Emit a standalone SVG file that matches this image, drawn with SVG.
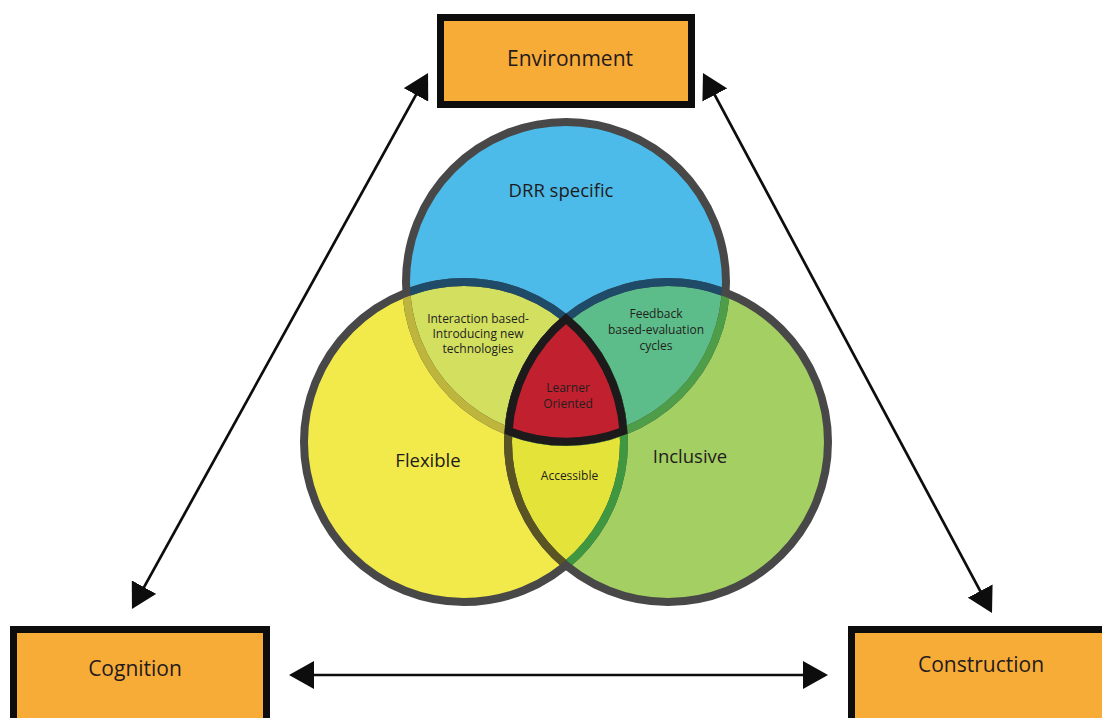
<svg xmlns="http://www.w3.org/2000/svg" width="1102" height="718" viewBox="0 0 1102 718">
  <style>
    .box { fill: #f8ac38; stroke: #0d0d0d; stroke-width: 7; }
    .box-label { font-family: "Open Sans", "Noto Sans", sans-serif; font-size: 21px; fill: #1f1b1c; text-anchor: middle; }
    .set-label { font-family: "Open Sans", "Noto Sans", sans-serif; font-size: 18.5px; fill: #1f1b1c; text-anchor: middle; }
    .zone-label { font-family: "Open Sans", "Noto Sans", sans-serif; font-size: 12px; fill: #231f20; text-anchor: middle; }
    .link { stroke: #0d0d0d; stroke-width: 2.7; fill: none; marker-start: url(#head); marker-end: url(#head); }
    .ring { fill: none; stroke-width: 8; }
    .outer { stroke: #484848; }
    .olive { stroke: #beb53c; }
    .leaf { stroke: #4e9d49; }
    .navy { stroke: #1f4b69; }
    .moss { stroke: #3f973f; }
    .umber { stroke: #5a5424; }
  </style>
  <defs>
    <marker id="head" markerUnits="userSpaceOnUse" viewBox="0 0 25 28" refX="22" refY="14" markerWidth="25" markerHeight="28" orient="auto-start-reverse">
      <path d="M0,0 L25,14 L0,28 Z" fill="#0d0d0d"/>
    </marker>
    <!-- set interiors, used for overlap fills -->
    <clipPath id="inBlue"><circle cx="566" cy="282" r="160"/></clipPath>
    <clipPath id="inYellow"><circle cx="464" cy="442" r="160"/></clipPath>
    <!-- slightly smaller interiors, used to tint ring segments -->
    <clipPath id="ringBlue"><circle cx="566" cy="282" r="156"/></clipPath>
    <clipPath id="ringYellow"><circle cx="464" cy="442" r="156"/></clipPath>
    <clipPath id="ringGreen"><circle cx="668" cy="442" r="156"/></clipPath>
  </defs>

  <!-- connectors -->
  <g id="connectors">
    <line class="link" x1="426.6" y1="75.6" x2="133.4" y2="606.4"/>
    <line class="link" x1="704.4" y1="75.6" x2="990.6" y2="610.4"/>
    <line class="link" x1="292" y1="675" x2="825" y2="675"/>
  </g>

  <!-- venn diagram -->
  <g id="venn">
    <circle cx="566" cy="282" r="160" fill="#4dbbe9"/>
    <circle cx="464" cy="442" r="160" fill="#f2ea4b"/>
    <circle cx="668" cy="442" r="160" fill="#a4cf63"/>

    <circle cx="464" cy="442" r="160" fill="#d3df5f" clip-path="url(#inBlue)"/>
    <circle cx="668" cy="442" r="160" fill="#5dbd8a" clip-path="url(#inBlue)"/>
    <circle cx="668" cy="442" r="160" fill="#e4e33a" clip-path="url(#inYellow)"/>

    <circle class="ring outer" cx="566" cy="282" r="160"/>
    <circle class="ring outer" cx="464" cy="442" r="160"/>
    <circle class="ring outer" cx="668" cy="442" r="160"/>

    <circle class="ring olive" cx="566" cy="282" r="160" clip-path="url(#ringYellow)"/>
    <circle class="ring leaf" cx="566" cy="282" r="160" clip-path="url(#ringGreen)"/>
    <circle class="ring navy" cx="464" cy="442" r="160" clip-path="url(#ringBlue)"/>
    <circle class="ring moss" cx="464" cy="442" r="160" clip-path="url(#ringGreen)"/>
    <circle class="ring navy" cx="668" cy="442" r="160" clip-path="url(#ringBlue)"/>
    <circle class="ring umber" cx="668" cy="442" r="160" clip-path="url(#ringYellow)"/>
  </g>

  <g id="learner-oriented">
    <path d="M566,318.7 A160,160 0 0 0 508.6,431.1 A160,160 0 0 0 623.4,431.1 A160,160 0 0 0 566,318.7 Z" fill="#c1202e" stroke="#1c1a1a" stroke-width="8" stroke-linejoin="miter"/>
    <text class="zone-label" font-size="11.5" x="568" y="392">Learner</text>
    <text class="zone-label" font-size="11.5" x="568" y="408">Oriented</text>
  </g>

  <g id="drr-specific">
    <text class="set-label" font-size="18" x="561" y="197">DRR specific</text>
  </g>
  <g id="flexible">
    <text class="set-label" x="428" y="467">Flexible</text>
  </g>
  <g id="inclusive">
    <text class="set-label" x="690" y="463">Inclusive</text>
  </g>
  <g id="interaction-based">
    <text class="zone-label" x="478" y="323">Interaction based-</text>
    <text class="zone-label" x="478" y="338">Introducing new</text>
    <text class="zone-label" x="478" y="353">technologies</text>
  </g>
  <g id="feedback-based">
    <text class="zone-label" x="656" y="318">Feedback</text>
    <text class="zone-label" x="656" y="334">based-evaluation</text>
    <text class="zone-label" x="656" y="350">cycles</text>
  </g>
  <g id="accessible">
    <text class="zone-label" x="569.5" y="480">Accessible</text>
  </g>

  <!-- corner boxes -->
  <g id="environment">
    <rect class="box" x="440.5" y="17.5" width="251" height="87"/>
    <text class="box-label" x="570" y="66">Environment</text>
  </g>
  <g id="cognition">
    <rect class="box" x="13.5" y="629.5" width="253" height="110"/>
    <text class="box-label" x="135" y="676">Cognition</text>
  </g>
  <g id="construction">
    <rect class="box" x="851.5" y="629.5" width="270" height="110"/>
    <text class="box-label" x="981" y="672">Construction</text>
  </g>
</svg>
